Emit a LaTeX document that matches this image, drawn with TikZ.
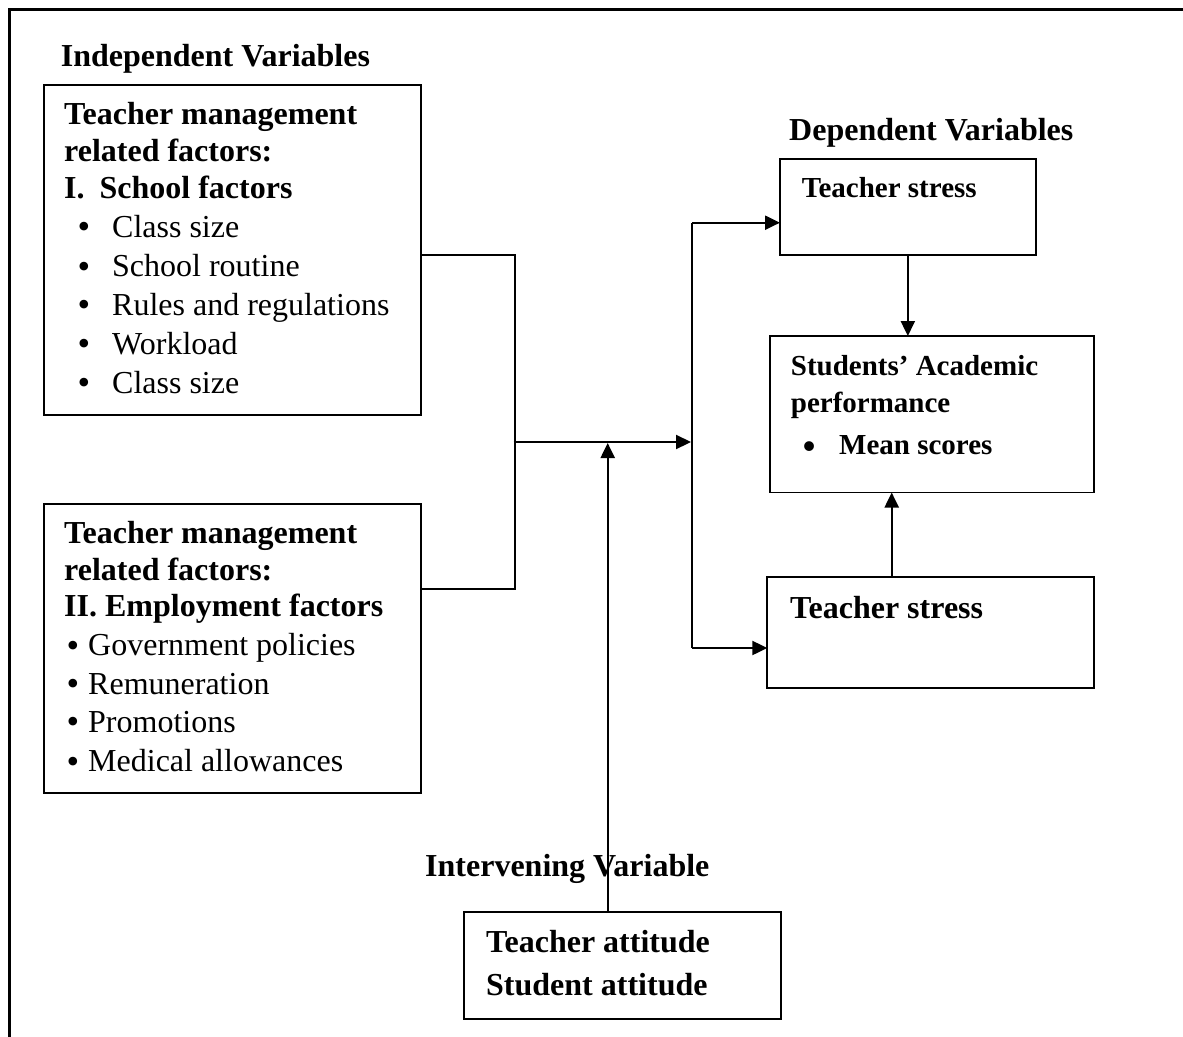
\documentclass[tikz,border=0pt]{standalone}
\usepackage{fontspec}
\setmainfont{Liberation Serif}
\usetikzlibrary{arrows.meta}
\newcommand\blt[2]{\makebox[#1][l]{\raisebox{#2}{\fontsize{36}{36}\selectfont\textbullet}}}
\begin{document}
\begin{tikzpicture}[x=1pt,y=-1pt,
  box/.style={draw, line width=1.8pt, inner sep=0pt, outer sep=0pt, anchor=north west},
  txt/.style={anchor=base west, inner sep=0pt, font=\fontsize{32}{38}\selectfont},
  txtb/.style={anchor=base west, inner sep=0pt, font=\fontsize{32}{38}\selectfont\bfseries},
  txts/.style={anchor=base west, inner sep=0pt, font=\fontsize{29}{35}\selectfont\bfseries},
  conn/.style={line width=2.2pt},
  arr/.style={line width=2.2pt, -{Triangle[length=15pt,width=14pt]}},
]
\useasboundingbox (0,0) rectangle (1183,1036);
\fill[white] (0,0) rectangle (1183,1036);
% outer frame (only top and left visible)
\draw[line width=3pt] (1190,9.4) -- (9,9.4) -- (9,1045);

% boxes
\node[box, minimum width=376.7pt, minimum height=330pt] (b1) at (44,85) {};
\node[box, minimum width=376.7pt, minimum height=288.7pt] (b2) at (44,504) {};
\node[box, minimum width=255.7pt, minimum height=96pt] (ts1) at (780,158.7) {};
\node[box, minimum width=324pt, minimum height=156.5pt] (sap) at (770,336) {};
\node[box, minimum width=326.7pt, minimum height=111.3pt] (ts2) at (767.3,576.7) {};
\node[box, line width=2.3pt, minimum width=317pt, minimum height=107.6pt] (iv) at (464,911.7) {};

% texts
\node[txtb] (indep) at (60.7,66.7) {Independent Variables};
\node[txtb] (b1a) at (64,124) {Teacher management};
\node[txtb] (b1b) at (64,161.7) {related factors:};
\node[txtb] (b1c) at (64,198.3) {I.\hspace{15pt}School factors};
\node[txt] (i1) at (77.4,237.3) {\blt{34.6pt}{-1.5pt}Class size};
\node[txt] (i2) at (77.4,276.7) {\blt{34.6pt}{-1.5pt}School routine};
\node[txt] (i3) at (77.4,315) {\blt{34.6pt}{-1.5pt}Rules and regulations};
\node[txt] (i4) at (77.4,354) {\blt{34.6pt}{-1.5pt}Workload};
\node[txt] (i5) at (77.4,393.3) {\blt{34.6pt}{-1.5pt}Class size};

\node[txtb] (b2a) at (64,543.3) {Teacher management};
\node[txtb] (b2b) at (64,580.7) {related factors:};
\node[txtb] (b2c) at (64,616.7) {II. Employment factors};
\node[txt] (j1t) at (66.5,655.7) {\blt{21.5pt}{-1.5pt}Government policies};
\node[txt] (j2t) at (66.5,694.3) {\blt{21.5pt}{-1.5pt}Remuneration};
\node[txt] (j3t) at (66.5,732.3) {\blt{21.5pt}{-1.5pt}Promotions};
\node[txt] (j4t) at (66.5,771.7) {\blt{21.5pt}{-1.5pt}Medical allowances};

\node[txtb] (dep) at (789,140.7) {Dependent Variables};
\node[txts] (ts1t) at (801.7,197) {Teacher stress};
\node[txts] (sapa) at (790.7,375) {Students’ Academic};
\node[txts] (sapb) at (790.7,412.7) {performance};
\node[txts] (sapc) at (802.7,454) {\blt{36.3pt}{-4pt}Mean scores};
\node[txtb] (ts2t) at (790,618) {Teacher stress};

\node[txtb] (ivl) at (425,876) {Intervening Variable};
\node[txtb] (iva) at (486,952.7) {Teacher attitude};
\node[txtb] (ivb) at (486,995) {Student attitude};

% connectors
\coordinate (j1) at (515,255);
\coordinate (j2) at (515,589);
\draw[conn] (b1.east |- j1) -- (j1) -- (j2) -- (b2.east |- j2);
\coordinate (m1) at (513.5,442);
\coordinate (m2) at (691,442);
\draw[arr] (m1) -- (m2);
\coordinate (v1) at (692,222.7);
\coordinate (v2) at (692,648);
\draw[conn] (v1) -- (v2);
\draw[arr] (v1) -- (ts1.west |- v1);
\draw[arr] (v2) -- (ts2.west |- v2);
\draw[arr] (ts1.south) -- (ts1.south |- sap.north);
\coordinate (u) at (891.7,500);
\draw[arr] (ts2.north -| u) -- (sap.south -| u);
\coordinate (ivx) at (607.7,443);
\draw[arr] (iv.north -| ivx) -- (ivx);
\end{tikzpicture}
\end{document}
